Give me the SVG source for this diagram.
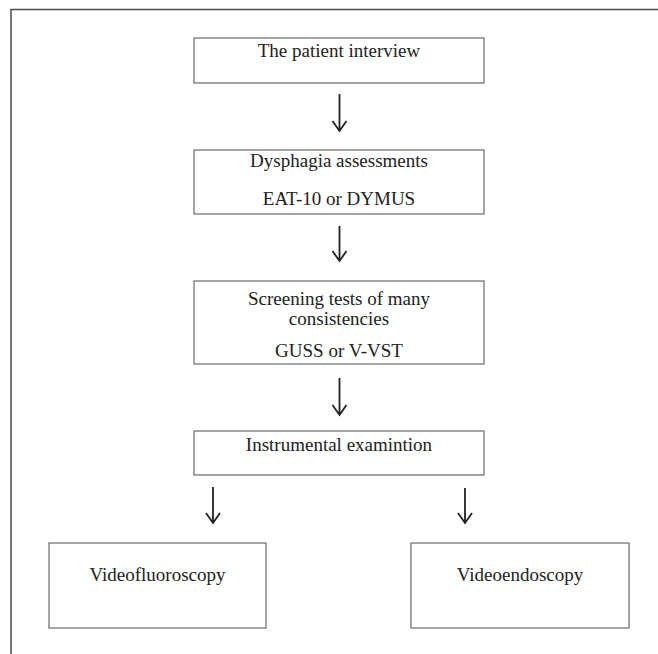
<svg xmlns="http://www.w3.org/2000/svg" width="658" height="654" viewBox="0 0 658 654">
<style>
.box{fill:#fff;stroke:#6a6a6a;stroke-width:1.2}
.t{font-family:"Liberation Serif","Times New Roman",serif;font-size:19px;fill:#222;text-anchor:middle}
.arr{fill:none;stroke:#222;stroke-width:1.8}
</style>
<rect width="658" height="654" fill="#fff"/>
<path d="M11,654 V9.5 H658" fill="none" stroke="#4a4a4a" stroke-width="1.5"/>
<g id="n1"><rect class="box" x="194" y="38" width="290" height="45"/><text class="t" x="339" y="57">The patient interview</text></g>
<g id="n2"><rect class="box" x="194" y="150" width="290" height="64"/><text class="t" x="339" y="167">Dysphagia assessments</text><text class="t" x="339" y="205">EAT-10 or DYMUS</text></g>
<g id="n3"><rect class="box" x="194" y="281" width="290" height="83"/><text class="t" x="339" y="305">Screening tests of many</text><text class="t" x="339" y="325">consistencies</text><text class="t" x="339" y="357">GUSS or V-VST</text></g>
<g id="n4"><rect class="box" x="194" y="431" width="290" height="44"/><text class="t" x="339" y="451">Instrumental examintion</text></g>
<g id="n5"><rect class="box" x="49" y="543" width="217" height="85"/><text class="t" x="157.5" y="581">Videofluoroscopy</text></g>
<g id="n6"><rect class="box" x="411" y="543" width="218" height="85"/><text class="t" x="520" y="581">Videoendoscopy</text></g>
<g id="connectors">
<path class="arr" d="M339.5,94 V131 M332.5,121 L339.5,131 L346.5,121"/>
<path class="arr" d="M339.5,226 V261 M332.5,251 L339.5,261 L346.5,251"/>
<path class="arr" d="M339.5,378 V415 M332.5,405 L339.5,415 L346.5,405"/>
<path class="arr" d="M213,487 V523 M206,513 L213,523 L220,513"/>
<path class="arr" d="M465,488 V523 M458,513 L465,523 L472,513"/>
</g>
</svg>
